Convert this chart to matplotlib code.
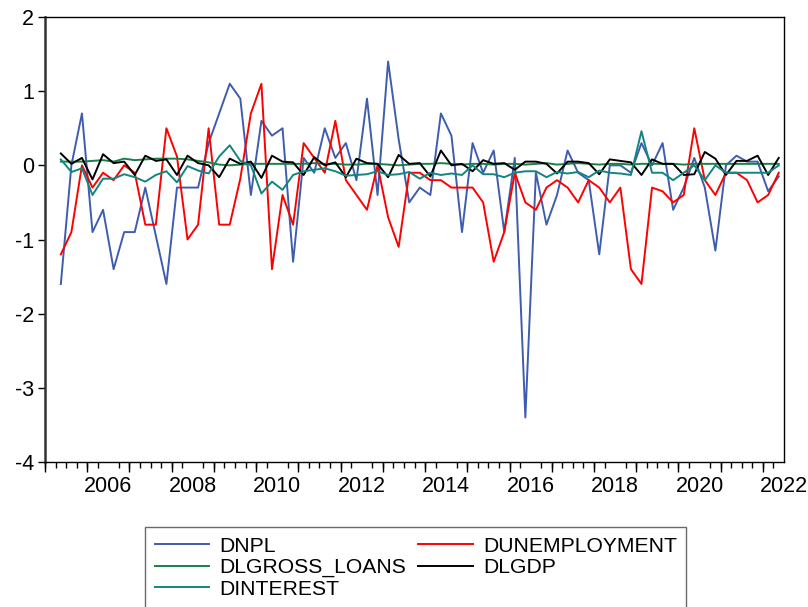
import numpy as np
import matplotlib
matplotlib.use("Agg")
import matplotlib.pyplot as plt

# quarterly data, first observation 2005Q2
start_year = 2005
start_q = 2

dnpl = [-1.6, 0.0, 0.7, -0.9, -0.6, -1.4, -0.9, -0.9, -0.3, -0.95,
        -1.6, -0.3, -0.3, -0.3, 0.3, 0.7, 1.1, 0.9, -0.4, 0.6,
        0.4, 0.5, -1.3, 0.1, -0.1, 0.5, 0.1, 0.3, -0.2, 0.9,
        -0.4, 1.4, 0.35, -0.5, -0.3, -0.4, 0.7, 0.4, -0.9, 0.3,
        -0.1, 0.2, -0.9, 0.1, -3.4, -0.1, -0.8, -0.4, 0.2, -0.1,
        -0.2, -1.2, 0.0, 0.0, -0.1, 0.3, 0.0, 0.3, -0.6, -0.3,
        0.1, -0.3, -1.15, 0.0, 0.13, 0.05, 0.05, -0.35, -0.15]
dunemployment = [-1.2, -0.9, 0.0, -0.3, -0.1, -0.2, 0.0, -0.1, -0.8, -0.8,
                 0.5, 0.12, -1.0, -0.8, 0.5, -0.8, -0.8, -0.18, 0.7, 1.1,
                 -1.4, -0.4, -0.8, 0.3, 0.1, -0.1, 0.6, -0.2, -0.4, -0.6,
                 0.0, -0.7, -1.1, -0.1, -0.1, -0.2, -0.2, -0.3, -0.3, -0.3,
                 -0.5, -1.3, -0.9, -0.1, -0.5, -0.6, -0.3, -0.2, -0.3, -0.5,
                 -0.2, -0.3, -0.5, -0.3, -1.4, -1.6, -0.3, -0.35, -0.5, -0.4,
                 0.5, -0.2, -0.4, -0.1, -0.1, -0.2, -0.5, -0.4, -0.1]
dlgross_loans = [0.05, 0.05, 0.05, 0.06, 0.07, 0.05, 0.09, 0.07, 0.08, 0.09,
                 0.09, 0.09, 0.08, 0.06, 0.04, 0.01, 0.0, 0.01, 0.02, 0.02,
                 0.02, 0.02, 0.02, 0.02, 0.03, 0.02, 0.02, 0.01, 0.01, 0.02,
                 0.02, 0.01, 0.0, 0.01, 0.02, 0.02, 0.03, 0.02, 0.01, 0.02,
                 0.02, 0.01, 0.02, 0.02, 0.01, 0.02, 0.03, 0.01, 0.02, 0.03,
                 0.02, 0.01, 0.02, 0.02, 0.01, 0.02, 0.02, 0.02, 0.02, 0.01,
                 0.02, 0.02, 0.02, 0.02, 0.02, 0.02, 0.02, 0.02, 0.02]
dlgdp = [0.16, 0.02, 0.1, -0.19, 0.15, 0.03, 0.05, -0.13, 0.13, 0.06,
         0.08, -0.13, 0.13, 0.03, 0.0, -0.16, 0.09, 0.02, 0.05, -0.17,
         0.13, 0.05, 0.04, -0.13, 0.11, 0.0, 0.04, -0.16, 0.09, 0.03,
         0.02, -0.16, 0.14, 0.02, 0.03, -0.15, 0.2, 0.0, 0.02, -0.08,
         0.07, 0.02, 0.03, -0.06, 0.05, 0.05, 0.02, -0.11, 0.05, 0.05,
         0.03, -0.12, 0.08, 0.06, 0.04, -0.13, 0.08, 0.02, 0.02, -0.13,
         -0.12, 0.18, 0.09, -0.13, 0.06, 0.06, 0.13, -0.13, 0.1]
dinterest = [0.08, -0.09, -0.04, -0.4, -0.18, -0.18, -0.12, -0.16, -0.22, -0.13,
             -0.08, -0.23, -0.01, -0.07, -0.11, 0.12, 0.27, 0.06, 0.0, -0.38,
             -0.22, -0.33, -0.13, -0.08, -0.06, -0.04, -0.08, -0.14, -0.13, -0.12,
             -0.08, -0.13, -0.12, -0.09, -0.18, -0.1, -0.13, -0.11, -0.13, 0.0,
             -0.12, -0.12, -0.16, -0.1, -0.08, -0.08, -0.16, -0.09, -0.11, -0.09,
             -0.16, -0.07, -0.1, -0.11, -0.13, 0.46, -0.1, -0.1, -0.2, -0.1,
             0.0, -0.2, 0.0, -0.1, -0.1, -0.1, -0.1, -0.1, 0.0]

year_labels = ["2006", "2008", "2010", "2012", "2014", "2016", "2018", "2020", "2022"]
yticks = [-4, -3, -2, -1, 0, 1, 2]

n = len(dnpl)
x = start_year + (start_q - 1 + np.arange(n) + 0.5) / 4.0

tick_font = ["Liberation Sans Narrow", "Liberation Sans", "DejaVu Sans"]

fig = plt.figure(figsize=(8.08, 6.07), dpi=100)
ax = fig.add_axes([45 / 808, 145 / 607, 739 / 808, 445 / 607])

l1, = ax.plot(x, dnpl, color="#3F5DAE", lw=1.4, label="DNPL")
l2, = ax.plot(x, dunemployment, color="#FF0000", lw=1.4, label="DUNEMPLOYMENT")
l3, = ax.plot(x, dlgross_loans, color="#1B8048", lw=1.4, label="DLGROSS_LOANS")
l4, = ax.plot(x, dlgdp, color="#000000", lw=1.4, label="DLGDP")
l5, = ax.plot(x, dinterest, color="#118580", lw=1.4, label="DINTEREST")

ax.set_xlim(2005, 2022.5)
ax.set_ylim(-4, 2)

# labels sit in the middle of the year, ticks on year boundaries
ax.set_xticks([int(s) + 0.5 for s in year_labels])
ax.set_xticklabels(year_labels, fontfamily=tick_font, fontsize=15.5)
ax.set_xticks(np.arange(2005, 2022.51, 0.25), minor=True)
ax.tick_params(axis="x", which="major", length=0, pad=10)
ax.tick_params(axis="x", which="minor", length=4, width=1, direction="out")

sec = ax.secondary_xaxis("bottom")
sec.set_xticks(np.arange(2005, 2023))
sec.set_xticklabels([])
sec.tick_params(length=7, width=1, direction="out")
sec.spines["bottom"].set_visible(False)

ax.set_yticks(yticks)
ax.set_yticklabels([str(v) for v in yticks], fontfamily=tick_font, fontsize=15.5)
ax.tick_params(axis="y", length=5, width=1, direction="out", pad=3)

for s in ax.spines.values():
    s.set_linewidth(1.0)
ax.spines["left"].set_linewidth(1.8)
ax.spines["left"].set_color("#333333")

leg = fig.legend([l1, l3, l5, l2, l4],
                 ["DNPL", "DLGROSS_LOANS", "DINTEREST", "DUNEMPLOYMENT", "DLGDP"],
                 ncol=2, loc="upper left", bbox_to_anchor=(145 / 808, 1 - 527 / 607),
                 prop={"family": ["Liberation Sans", "DejaVu Sans"], "size": 15.2},
                 frameon=True, fancybox=False, edgecolor="#444444",
                 handlelength=2.6, handletextpad=0.45, columnspacing=0.6,
                 labelspacing=0.12, borderpad=0.45, borderaxespad=0)
leg.get_frame().set_linewidth(1.0)
for h in leg.get_lines():
    h.set_linewidth(1.4)

fig.savefig("out.png", dpi=100)
